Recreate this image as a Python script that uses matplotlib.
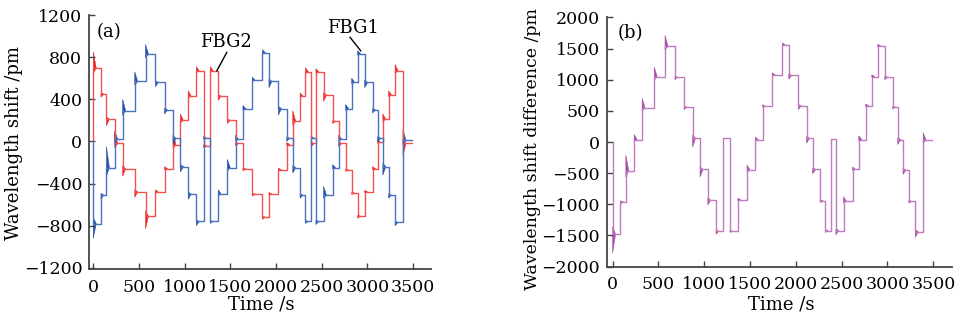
import matplotlib
matplotlib.use("Agg")
import matplotlib.pyplot as plt

plt.rcParams['font.family'] = ['DejaVu Serif']
plt.rcParams['font.size'] = 13

# step times (s) shared by both gratings
step_t = [0, 84, 144, 235, 322, 454, 572, 680, 780, 873, 954, 1039, 1128, 1208,
          1280, 1367, 1467, 1557, 1638, 1741, 1852, 1923, 2027, 2118, 2184, 2264,
          2322, 2384, 2437, 2521, 2620, 2687, 2763, 2829, 2894, 2971, 3057, 3113,
          3170, 3233, 3304, 3390]
t_end = 3490

# level after each step (pm)
fbg1 = [-780, -510, -250, 20, 290, 570, 830, 560, 300, 30, -240, -500, -760, 30,
        -760, -500, -250, 20, 310, 580, 840, 570, 310, 30, -250, -510, -760, 30,
        -760, -510, -250, 20, 310, 560, 830, 560, 300, 30, -240, -510, -770, 10]
fbg2 = [700, 450, 210, -20, -260, -480, -710, -480, -260, -30, 200, 430, 670, -40,
        670, 430, 200, -20, -260, -500, -720, -500, -270, -30, 190, 430, 660, -20,
        660, 440, 190, -20, -270, -490, -710, -480, -260, -10, 210, 440, 670, -20]

# ringing amplitude right after each step (pm, signed)
ring1 = [-140, -40, 200, 80, 110, 90, 90, -40, -40, -60, -50, -50, -40, 20,
         -20, 40, 80, 40, 30, 30, 30, -60, -60, -30, -50, -30, -20, 20,
         -30, 80, 30, 40, 40, 40, 30, -50, -30, -40, -80, -30, -30, 100]
ring2 = [150, -30, -60, 100, -70, -50, -120, 20, 20, 100, 60, 50, 40, -20,
         40, -40, -30, -20, -20, -20, -20, 15, 15, 20, 100, 30, 40, -30,
         30, -60, -20, -30, -15, -15, -20, 15, 20, 20, 50, 40, 60, -120]
ring_d = [-300, -40, 250, 80, 150, 150, 170, -40, -40, -140, -120, -80, -50, 0,
          -20, 30, 80, 40, 30, 30, 30, -60, -60, -80, -70, -30, -30, 0,
          -70, 70, 40, 60, 30, 30, 30, -40, -30, -80, -70, -30, -90, 120]

diff = [a - b for a, b in zip(fbg1, fbg2)]


def draw(ax, levels, ring, line_c, fill_c):
    xs = [0] + step_t + [t_end]
    ys = [0] + levels + [levels[-1]]
    ax.step(xs, ys, where='post', color=line_c, lw=1.0)
    for t0, lv, a in zip(step_t, levels, ring):
        if a == 0:
            continue
        ax.fill([t0, t0 + 32, t0], [lv + a, lv, lv - 0.4 * a],
                color=fill_c, lw=0.4)


def style(ax):
    for s in ['top', 'right']:
        ax.spines[s].set_visible(False)
    for s in ['left', 'bottom']:
        ax.spines[s].set_color('#444444')
        ax.spines[s].set_linewidth(1.3)
    ax.tick_params(direction='in', length=4, width=1, color='#444444', labelsize=12.5)
    ax.tick_params(axis='x', pad=7)
    ax.tick_params(axis='y', pad=5)
    ax.set_xticks(range(0, 3501, 500))


fig = plt.figure(figsize=(9.58, 3.2), dpi=100)

ax1 = fig.add_axes([0.0932, 0.160, 0.357, 0.793])
draw(ax1, fbg2, ring2, '#f45050', '#e82828')
draw(ax1, fbg1, ring1, '#4a72c0', '#2452a8')
ax1.set_xlim(-44, 3700)
ax1.set_ylim(-1210, 1200)
ax1.set_yticks(range(-1200, 1201, 400))
style(ax1)
ax1.set_xlabel('Time /s')
ax1.set_ylabel('Wavelength shift /pm')
ax1.xaxis.set_label_coords(0.504, -0.105)
ax1.yaxis.set_label_coords(-0.194, 0.497)
ax1.text(173, 1035, '(a)', ha='center', va='center')
ax1.text(1453, 948, 'FBG2', ha='center', va='center')
ax1.text(2839, 1074, 'FBG1', ha='center', va='center')
ax1.plot([1461, 1352], [845, 670], color='black', lw=1)
ax1.plot([2811, 2928], [988, 860], color='black', lw=1)

ax2 = fig.add_axes([0.6333, 0.1667, 0.360, 0.779])
draw(ax2, diff, ring_d, '#c07ac0', '#a550a5')
ax2.set_xlim(-65, 3700)
ax2.set_ylim(-2000, 2000)
ax2.set_yticks(range(-2000, 2001, 500))
style(ax2)
ax2.set_xlabel('Time /s')
ax2.set_ylabel('Wavelength shift difference /pm', fontsize=12.5)
ax2.xaxis.set_label_coords(0.505, -0.115)
ax2.yaxis.set_label_coords(-0.19, 0.472)
ax2.text(196, 1748, '(b)', ha='center', va='center')

fig.savefig('out.png', dpi=100)
